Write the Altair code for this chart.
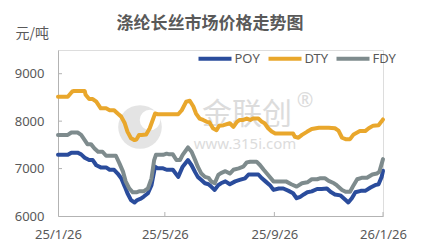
import altair as alt
import pandas as pd

START = "2025-01-26"

series_names = ["POY", "DTY", "FDY"]
series_colors = ["#2A4C9C", "#E9A72C", "#7E8B8D"]

poy_days = [0, 11, 15, 22, 26, 30, 35, 39, 43, 48, 54, 58, 63, 67, 71, 75, 78, 82, 86, 89,
            93, 96, 101, 105, 109, 112, 118, 122, 129, 135, 140, 146, 150, 154, 157, 161, 165, 169, 172, 176,
            180, 183, 188, 193, 199, 204, 210, 214, 225, 229, 233, 238, 242, 248, 253, 259, 264, 268, 272, 276,
            280, 285, 291, 296, 302, 306, 311, 317, 323, 326, 330, 334, 340, 345, 351, 356, 360, 363.5, 365]
poy_vals = [7290, 7290, 7335, 7335, 7300, 7230, 7180, 7180, 7070, 7025,
            7025, 6975, 6975, 6895, 6795, 6620, 6480, 6335, 6285, 6335,
            6365, 6405, 6480, 6650, 7040, 7005, 7005, 6975, 6975, 6825,
            7040, 7180, 7070, 6925, 6825, 6760, 6690, 6670, 6620, 6550,
            6650, 6690, 6730, 6670, 6730, 6760, 6795, 6875, 6875, 6795,
            6730, 6650, 6550, 6580, 6580, 6530, 6480, 6375, 6405, 6455,
            6500, 6520, 6570, 6570, 6580, 6510, 6455, 6435, 6335, 6285,
            6375, 6500, 6530, 6530, 6600, 6650, 6670, 6825, 6955]

dty_days = [0, 11, 16, 18, 30, 31, 35, 39, 43, 48, 54, 58, 63, 67, 71, 75, 78, 82, 86, 88,
            91, 94, 99, 103, 107, 109, 112, 135, 139, 144, 148, 152, 155, 159, 163, 167, 170, 174, 178, 181,
            186, 193, 197, 201, 204, 208, 212, 216, 219, 225, 229, 232, 236, 240, 244, 264, 266, 270, 274, 280,
            285, 293, 304, 311, 315, 319, 323, 328, 332, 339, 345, 349, 354, 360, 363, 365]
dty_vals = [8515, 8515, 8625, 8635, 8635, 8555, 8465, 8465, 8410, 8270,
            8270, 8230, 8230, 8160, 8095, 7955, 7780, 7640, 7600, 7610,
            7710, 7710, 7720, 7850, 8055, 8160, 8145, 8145, 8230, 8410,
            8430, 8310, 8160, 8055, 8025, 7985, 7975, 7850, 7810, 7905,
            7915, 7955, 7880, 7985, 8025, 8025, 8055, 8025, 8055, 8055,
            7985, 7955, 7850, 7780, 7740, 7740, 7670, 7650, 7710, 7780,
            7835, 7860, 7860, 7850, 7800, 7650, 7620, 7620, 7720, 7790,
            7790, 7850, 7905, 7915, 7985, 8035]

fdy_days = [0, 11, 15, 22, 26, 30, 33, 37, 41, 45, 50, 54, 65, 69, 73, 76, 80, 84, 88, 91,
            96, 101, 105, 108, 110, 118, 122, 125, 129, 133, 137, 140, 146, 150, 154, 157, 161, 165, 169, 172,
            176, 180, 183, 188, 193, 197, 203, 208, 212, 216, 223, 227, 231, 236, 242, 256, 262, 268, 274, 280,
            285, 291, 294, 300, 304, 310, 313, 319, 323, 328, 332, 336, 341, 347, 353, 358, 361, 363.5, 365]
fdy_vals = [7710, 7710, 7760, 7760, 7710, 7600, 7515, 7515, 7425, 7355,
            7355, 7270, 7270, 7110, 6935, 6730, 6580, 6500, 6500, 6520,
            6520, 6580, 6795, 7180, 7290, 7290, 7315, 7300, 7300, 7180,
            7180, 7290, 7445, 7355, 7180, 7040, 6895, 6825, 6805, 6730,
            6690, 6865, 6905, 6945, 6895, 6975, 7005, 7040, 7130, 7145,
            7145, 7070, 6975, 6865, 6730, 6730, 6670, 6620, 6690, 6710,
            6775, 6775, 6795, 6795, 6740, 6690, 6650, 6550, 6510, 6510,
            6650, 6775, 6805, 6805, 6875, 6895, 6935, 7100, 7200]

x_tick_dates = [(2025, 1, 26), (2025, 5, 26), (2025, 9, 26), (2026, 1, 26)]
y_tick_values = [6000, 7000, 8000, 9000]
y_domain = [6000, 9500]

TITLE = "涤纶长丝市场价格走势图"
UNIT = "元/吨"
WM_BRAND = "金联创"
WM_URL = "www.315i.com"
WM_REG = "®"

AXIS_GRAY = "#b3b3b3"
TEXT_GRAY = "#595959"
WM_GRAY = "#dcdcdc"
NUM_FONT = "Noto Sans"
CJK_FONT = "Noto Sans CJK SC"

W, H = 325, 166


def to_iso(days):
    ts = pd.Timestamp(START) + pd.to_timedelta(pd.Series(days, dtype=float), unit="D")
    return ts.dt.strftime("%Y-%m-%dT%H:%M:%SZ").tolist()


frames = []
for name, days, vals in [("POY", poy_days, poy_vals), ("DTY", dty_days, dty_vals), ("FDY", fdy_days, fdy_vals)]:
    frames.append(pd.DataFrame({"date": to_iso(days), "value": vals, "series": name}))
df = pd.concat(frames, ignore_index=True)

dt = lambda t: alt.DateTime(year=t[0], month=t[1], date=t[2], utc=True)
x_scale = alt.Scale(type="utc", domain=[dt(x_tick_dates[0]), dt(x_tick_dates[-1])])
y_scale = alt.Scale(domain=y_domain, nice=False, zero=False)

x_axis = alt.Axis(
    values=[dt(t) for t in x_tick_dates],
    labelExpr="utcFormat(datum.value, '%y/%-m/%d')",
    ticks=False, grid=False, domainColor=AXIS_GRAY, domainWidth=1,
    labelFont=NUM_FONT, labelFontSize=13, labelColor=TEXT_GRAY, labelPadding=12,
    labelFlush=False, labelOverlap=False, title=None,
)
y_axis = alt.Axis(
    values=y_tick_values, format="d", ticks=False, grid=False, domainColor=AXIS_GRAY, domainWidth=1,
    labelFont=NUM_FONT, labelFontSize=13, labelColor=TEXT_GRAY, labelPadding=14,
    title=UNIT, titleAngle=0, titleX=-43, titleY=-17, titleAlign="left", titleBaseline="middle",
    titleFont=CJK_FONT, titleFontSize=14, titleFontWeight="normal", titleColor=TEXT_GRAY,
)

lines = alt.Chart(df).mark_line(strokeWidth=4, strokeJoin="round", strokeCap="round").encode(
    x=alt.X("date:T", scale=x_scale, axis=x_axis),
    y=alt.Y("value:Q", scale=y_scale, axis=y_axis),
    color=alt.Color(
        "series:N",
        scale=alt.Scale(domain=series_names, range=series_colors),
        legend=alt.Legend(
            orient="none", legendX=138.5, legendY=-10, direction="horizontal", title=None,
            symbolType="stroke", symbolSize=1089, symbolStrokeWidth=4,
            labelFont=NUM_FONT, labelFontSize=13, labelColor=TEXT_GRAY, labelOffset=1,
            columnPadding=0, padding=0,
        ),
    ),
    order=alt.Order("date:T"),
)

xt_df = pd.DataFrame({"date": [pd.Timestamp(year=t[0], month=t[1], day=t[2]).strftime("%Y-%m-%dT00:00:00Z") for t in x_tick_dates[1:]]})
x_ticks = alt.Chart(xt_df).mark_rule(color=AXIS_GRAY, strokeWidth=1).encode(
    x=alt.X("date:T", scale=x_scale), y=alt.value(H), y2=alt.value(H - 4)
)
yt_df = pd.DataFrame({"v": y_tick_values[1:]})
y_ticks = alt.Chart(yt_df).mark_rule(color=AXIS_GRAY, strokeWidth=1).encode(
    y=alt.Y("v:Q", scale=y_scale), x=alt.value(0), x2=alt.value(4)
)

logo = alt.Chart(pd.DataFrame({"k": [1]})).mark_point(
    shape="circle", filled=True, color="#e4e4e4", opacity=1, size=1900
).encode(x=alt.value(82), y=alt.value(77))
logo_cut = alt.Chart(pd.DataFrame({"k": [1]})).mark_point(
    shape="circle", filled=True, color="white", opacity=1, size=420
).encode(x=alt.value(92), y=alt.value(70))

wm_brand = alt.Chart(pd.DataFrame({"t": [WM_BRAND]})).mark_text(
    font=CJK_FONT, fontSize=30, color=WM_GRAY, align="center", baseline="middle"
).encode(text="t:N", x=alt.value(189), y=alt.value(65))
wm_url = alt.Chart(pd.DataFrame({"t": [WM_URL]})).mark_text(
    font=NUM_FONT, fontSize=15, color=WM_GRAY, align="center", baseline="middle"
).encode(text="t:N", x=alt.value(187), y=alt.value(94))
wm_reg = alt.Chart(pd.DataFrame({"t": [WM_REG]})).mark_text(
    font=NUM_FONT, fontSize=20, color=WM_GRAY, align="center", baseline="middle"
).encode(text="t:N", x=alt.value(247), y=alt.value(51))

title = alt.Chart(pd.DataFrame({"t": [TITLE]})).mark_text(
    font=CJK_FONT, fontSize=17, fontWeight="bold", color=TEXT_GRAY, align="center", baseline="middle"
).encode(text="t:N", x=alt.value(152), y=alt.value(-26))

chart = alt.layer(logo, logo_cut, wm_brand, wm_url, wm_reg, title, x_ticks, y_ticks, lines).properties(
    width=W, height=H,
    autosize=alt.AutoSizeParams(type="none"),
    padding={"left": 58, "top": 50, "right": 45, "bottom": 29},
).configure_view(stroke=None).configure(background="white")

chart.save("out.html", embed_options={"renderer": "svg", "actions": False})
